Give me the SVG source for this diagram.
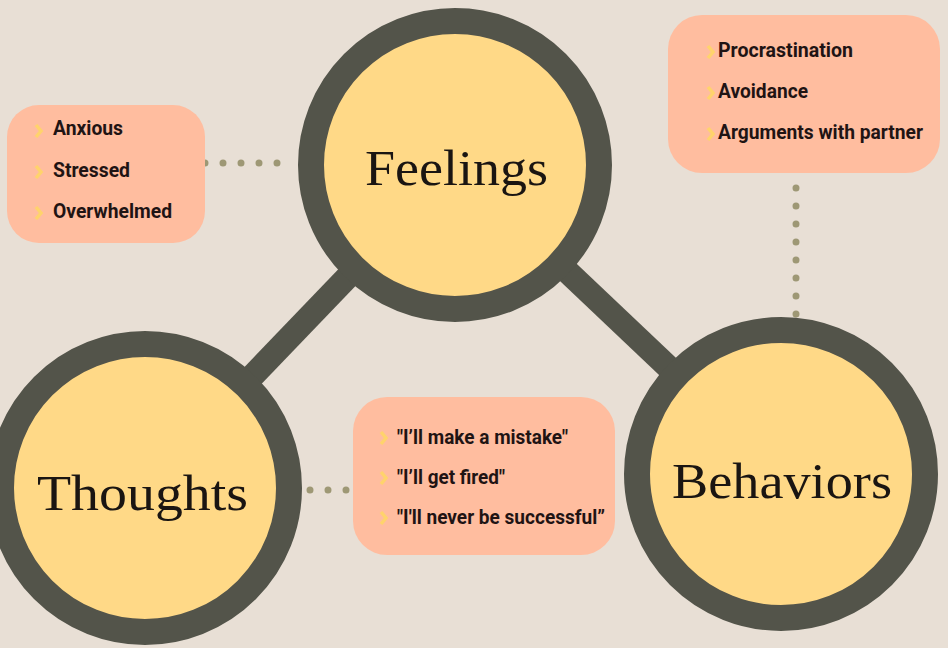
<svg xmlns="http://www.w3.org/2000/svg" width="948" height="648" viewBox="0 0 948 648">
<style>
  .bar { stroke:#53544A; stroke-width:24; fill:none; }
  .dots { stroke:#9E9875; stroke-width:7; stroke-linecap:round; stroke-dasharray:0 18; fill:none; }
  .ring { fill:#FFD987; stroke:#53544A; stroke-width:26; }
  .title { font-family:"Liberation Serif","Times New Roman",serif; font-size:51px; fill:#1A1512; text-anchor:start; }
  .box { fill:#FFBD9F; }
  .item { font-family:Roboto,"Liberation Sans",Arial,sans-serif; font-weight:bold; font-size:20px; fill:#1F1414; }
  .chev { fill:none; stroke:#FFD36C; stroke-width:3.5; stroke-linejoin:miter; }
</style>
<rect width="948" height="648" fill="#E8DFD5"/>
<g id="connectors">
  <line class="bar" x1="455" y1="165" x2="145" y2="488"/>
  <line class="bar" x1="455" y1="165" x2="781" y2="474"/>
  <line class="dots" x1="205" y1="163" x2="295" y2="163"/>
  <line class="dots" x1="796" y1="188" x2="796" y2="330"/>
  <line class="dots" x1="310" y1="490" x2="348" y2="490"/>
</g>
<g id="feelings">
  <circle class="ring" cx="455" cy="165" r="144"/>
  <text class="title" x="365" y="185" textLength="183" lengthAdjust="spacingAndGlyphs">Feelings</text>
</g>
<g id="thoughts">
  <circle class="ring" cx="145" cy="488" r="144"/>
  <text class="title" x="37" y="510" textLength="211" lengthAdjust="spacingAndGlyphs">Thoughts</text>
</g>
<g id="behaviors">
  <circle class="ring" cx="781" cy="474" r="144"/>
  <text class="title" x="672" y="498" textLength="220" lengthAdjust="spacingAndGlyphs">Behaviors</text>
</g>
<g id="feelings-list">
  <rect class="box" x="7" y="105" width="198" height="138" rx="32"/>
  <path class="chev" d="M36,125 L41,131 L36,137"/>
  <path class="chev" d="M36,166 L41,172 L36,178"/>
  <path class="chev" d="M36,207 L41,213 L36,219"/>
  <text class="item" x="53" y="135" textLength="70" lengthAdjust="spacingAndGlyphs">Anxious</text>
  <text class="item" x="53" y="177" textLength="77" lengthAdjust="spacingAndGlyphs">Stressed</text>
  <text class="item" x="53" y="218" textLength="119" lengthAdjust="spacingAndGlyphs">Overwhelmed</text>
</g>
<g id="behaviors-list">
  <rect class="box" x="668" y="15" width="272" height="158" rx="34"/>
  <path class="chev" d="M708,46 L713,52 L708,58"/>
  <path class="chev" d="M708,87 L713,93 L708,99"/>
  <path class="chev" d="M708,128 L713,134 L708,140"/>
  <text class="item" x="718" y="57" textLength="135" lengthAdjust="spacingAndGlyphs">Procrastination</text>
  <text class="item" x="718" y="98" textLength="90" lengthAdjust="spacingAndGlyphs">Avoidance</text>
  <text class="item" x="718" y="139" textLength="205" lengthAdjust="spacingAndGlyphs">Arguments with partner</text>
</g>
<g id="thoughts-list">
  <rect class="box" x="353" y="397" width="262" height="158" rx="34"/>
  <path class="chev" d="M381,432 L386,438 L381,444"/>
  <path class="chev" d="M381,472 L386,478 L381,484"/>
  <path class="chev" d="M381,512 L386,518 L381,524"/>
  <text class="item" x="397" y="444" textLength="171" lengthAdjust="spacingAndGlyphs">"I’ll make a mistake"</text>
  <text class="item" x="397" y="484" textLength="108" lengthAdjust="spacingAndGlyphs">"I’ll get fired"</text>
  <text class="item" x="397" y="524" textLength="208" lengthAdjust="spacingAndGlyphs">"I'll never be successful”</text>
</g>
</svg>
